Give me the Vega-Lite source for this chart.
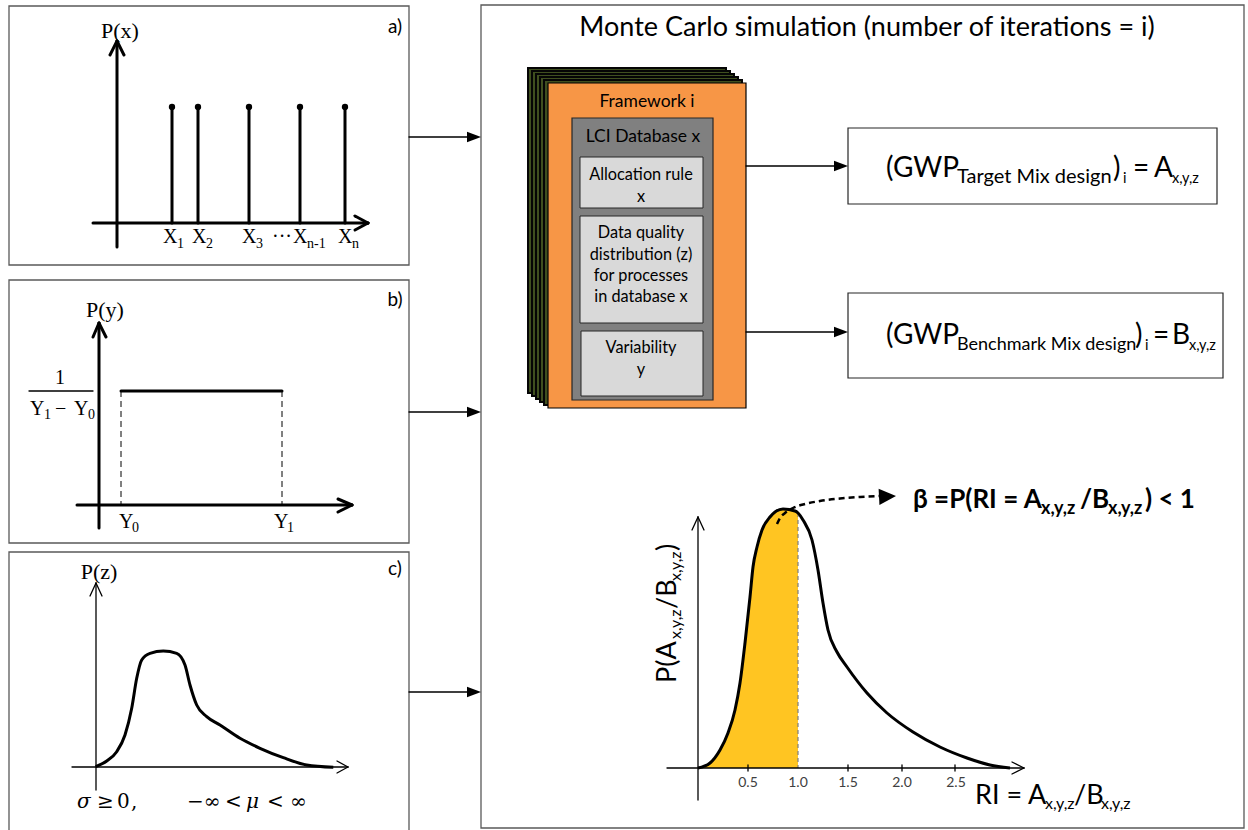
{
  "$schema": "https://vega.github.io/schema/vega-lite/v6.json",
  "width": 1248,
  "height": 830,
  "padding": 0,
  "autosize": "none",
  "background": "white",
  "config": {"view": {"stroke": null}},
  "datasets": {
    "frames": [
      {"x": 9, "x2": 409, "y": 6, "y2": 265},
      {"x": 9, "x2": 409, "y": 280, "y2": 543},
      {"x": 9, "x2": 409, "y": 552, "y2": 840},
      {"x": 481, "x2": 1244, "y": 5, "y2": 828}
    ],
    "stack": [
      {"x": 528, "x2": 726, "y": 68, "y2": 393},
      {"x": 532, "x2": 730, "y": 71, "y2": 396},
      {"x": 536, "x2": 734, "y": 74, "y2": 399},
      {"x": 540, "x2": 738, "y": 77, "y2": 402},
      {"x": 544, "x2": 742, "y": 80, "y2": 405}
    ],
    "framework": [{"x": 548, "x2": 746, "y": 83, "y2": 408}],
    "lci": [{"x": 572, "x2": 713, "y": 118, "y2": 400}],
    "inner": [
      {"x": 580, "x2": 703, "y": 157, "y2": 208},
      {"x": 580, "x2": 703, "y": 216, "y2": 323},
      {"x": 581, "x2": 703, "y": 331, "y2": 396}
    ],
    "results": [
      {"x": 848, "x2": 1217, "y": 128, "y2": 204},
      {"x": 848, "x2": 1223, "y": 293, "y2": 378}
    ],
    "thick": [
      {"x": 117, "y": 247, "x2": 117, "y2": 41},
      {"x": 110, "y": 55, "x2": 117, "y2": 41},
      {"x": 117, "y": 41, "x2": 124, "y2": 55},
      {"x": 93, "y": 223, "x2": 368, "y2": 223},
      {"x": 355, "y": 216, "x2": 368, "y2": 223},
      {"x": 368, "y": 223, "x2": 355, "y2": 230},
      {"x": 172, "y": 223, "x2": 172, "y2": 107},
      {"x": 198, "y": 223, "x2": 198, "y2": 107},
      {"x": 249, "y": 223, "x2": 249, "y2": 107},
      {"x": 300, "y": 223, "x2": 300, "y2": 107},
      {"x": 345, "y": 223, "x2": 345, "y2": 107},
      {"x": 99, "y": 528, "x2": 99, "y2": 323},
      {"x": 93, "y": 337, "x2": 99, "y2": 323},
      {"x": 99, "y": 323, "x2": 106, "y2": 337},
      {"x": 77, "y": 505, "x2": 352, "y2": 505},
      {"x": 338, "y": 499, "x2": 352, "y2": 505},
      {"x": 352, "y": 505, "x2": 338, "y2": 512},
      {"x": 121, "y": 391, "x2": 282, "y2": 391}
    ],
    "thin": [
      {"x": 96, "y": 790, "x2": 96, "y2": 583},
      {"x": 90, "y": 596, "x2": 96, "y2": 583},
      {"x": 96, "y": 583, "x2": 102, "y2": 596},
      {"x": 72, "y": 767, "x2": 348, "y2": 767},
      {"x": 337, "y": 761, "x2": 348, "y2": 767},
      {"x": 348, "y": 767, "x2": 337, "y2": 773},
      {"x": 698, "y": 800, "x2": 698, "y2": 517},
      {"x": 692, "y": 530, "x2": 698, "y2": 517},
      {"x": 698, "y": 517, "x2": 704, "y2": 530},
      {"x": 667, "y": 768, "x2": 1024, "y2": 768},
      {"x": 1012, "y": 762, "x2": 1024, "y2": 768},
      {"x": 1024, "y": 768, "x2": 1012, "y2": 774},
      {"x": 748, "y": 765, "x2": 748, "y2": 771},
      {"x": 848, "y": 765, "x2": 848, "y2": 771},
      {"x": 902, "y": 765, "x2": 902, "y2": 771},
      {"x": 955, "y": 765, "x2": 955, "y2": 771},
      {"x": 409, "y": 137, "x2": 470, "y2": 137},
      {"x": 409, "y": 412, "x2": 470, "y2": 412},
      {"x": 409, "y": 692, "x2": 470, "y2": 692},
      {"x": 746, "y": 166, "x2": 836, "y2": 166},
      {"x": 746, "y": 332, "x2": 836, "y2": 332},
      {"x": 29, "y": 391, "x2": 93, "y2": 391}
    ],
    "dashedB": [
      {"x": 121, "y": 391, "x2": 121, "y2": 505},
      {"x": 282, "y": 391, "x2": 282, "y2": 505}
    ],
    "dashedRI": [{"x": 798, "y": 513, "x2": 798, "y2": 768}],
    "zcurve": [
      {"x": 95.7, "y": 766.7}, {"x": 106.7, "y": 761}, {"x": 116.7, "y": 751.7},
      {"x": 125, "y": 735}, {"x": 131.7, "y": 708.3}, {"x": 136.7, "y": 678.3},
      {"x": 141.7, "y": 660}, {"x": 150, "y": 653.3}, {"x": 163.3, "y": 651},
      {"x": 176.7, "y": 653.3}, {"x": 185, "y": 665}, {"x": 190, "y": 685},
      {"x": 196.7, "y": 705}, {"x": 206.7, "y": 716.7}, {"x": 220, "y": 725},
      {"x": 240, "y": 738.3}, {"x": 260, "y": 748.3}, {"x": 283.3, "y": 757.7},
      {"x": 306.7, "y": 765}, {"x": 333.3, "y": 767.3}
    ],
    "ricurve": [
      {"x": 698, "y": 768}, {"x": 710, "y": 763}, {"x": 720, "y": 750},
      {"x": 728, "y": 733}, {"x": 735, "y": 710}, {"x": 740, "y": 683},
      {"x": 745, "y": 643}, {"x": 750, "y": 597}, {"x": 753, "y": 567},
      {"x": 757, "y": 547}, {"x": 762, "y": 530}, {"x": 770, "y": 517},
      {"x": 783, "y": 509}, {"x": 795, "y": 511}, {"x": 798, "y": 513},
      {"x": 803, "y": 520}, {"x": 812, "y": 540}, {"x": 818, "y": 570},
      {"x": 823, "y": 603}, {"x": 828, "y": 630}, {"x": 837, "y": 652},
      {"x": 847, "y": 667}, {"x": 867, "y": 693}, {"x": 887, "y": 713},
      {"x": 913, "y": 732}, {"x": 940, "y": 747}, {"x": 967, "y": 758},
      {"x": 990, "y": 765}, {"x": 1010, "y": 768}
    ],
    "beta": [
      {"x": 777, "y": 524}, {"x": 780, "y": 518}, {"x": 785, "y": 513},
      {"x": 793, "y": 508}, {"x": 805, "y": 504}, {"x": 820, "y": 501},
      {"x": 840, "y": 498.5}, {"x": 860, "y": 497}, {"x": 880, "y": 496}
    ],
    "heads": [
      {"x": 481, "y": 137}, {"x": 481, "y": 412}, {"x": 481, "y": 692},
      {"x": 848, "y": 166}, {"x": 848, "y": 332}
    ],
    "betahead": [{"x": 896, "y": 496}],
    "dots": [
      {"x": 172, "y": 107}, {"x": 198, "y": 107}, {"x": 249, "y": 107},
      {"x": 300, "y": 107}, {"x": 345, "y": 107}
    ],
    "serifBig": [
      {"x": 120, "y": 31, "t": "P(x)"},
      {"x": 105, "y": 310, "t": "P(y)"},
      {"x": 99, "y": 572, "t": "P(z)"}
    ],
    "serifMain": [
      {"x": 163, "y": 243, "t": "X"}, {"x": 192, "y": 243, "t": "X"},
      {"x": 242, "y": 243, "t": "X"}, {"x": 272, "y": 243, "t": "···"},
      {"x": 293, "y": 243, "t": "X"}, {"x": 338, "y": 243, "t": "X"},
      {"x": 119, "y": 528, "t": "Y"}, {"x": 274, "y": 528, "t": "Y"},
      {"x": 55, "y": 384, "t": "1"},
      {"x": 30, "y": 415, "t": "Y"}, {"x": 55, "y": 415, "t": "−"},
      {"x": 74, "y": 415, "t": "Y"}
    ],
    "serifMath": [
      {"x": 97, "y": 808, "t": "≥"}, {"x": 117, "y": 808, "t": "0"},
      {"x": 131, "y": 808, "t": ","},
      {"x": 187, "y": 808, "t": "−∞"}, {"x": 225, "y": 808, "t": "<"},
      {"x": 267, "y": 808, "t": "<"}, {"x": 290, "y": 808, "t": "∞"}
    ],
    "serifItal": [
      {"x": 77, "y": 808, "t": "σ"}, {"x": 246, "y": 808, "t": "μ"}
    ],
    "serifSub": [
      {"x": 177, "y": 248, "t": "1"}, {"x": 206, "y": 248, "t": "2"},
      {"x": 256, "y": 248, "t": "3"}, {"x": 307, "y": 248, "t": "n-1"},
      {"x": 352, "y": 248, "t": "n"},
      {"x": 132, "y": 532, "t": "0"}, {"x": 287, "y": 532, "t": "1"},
      {"x": 44, "y": 419, "t": "1"}, {"x": 88, "y": 419, "t": "0"}
    ],
    "panelTags": [
      {"x": 395, "y": 27, "t": "a)"},
      {"x": 395, "y": 300, "t": "b)"},
      {"x": 395, "y": 569, "t": "c)"}
    ],
    "title": [{"x": 867, "y": 28, "t": "Monte Carlo simulation (number of iterations = i)"}],
    "fwText": [
      {"x": 647, "y": 102, "t": "Framework i"},
      {"x": 643, "y": 137, "t": "LCI Database x"}
    ],
    "boxText": [
      {"x": 641, "y": 175, "t": "Allocation rule"},
      {"x": 641, "y": 197, "t": "x"},
      {"x": 641, "y": 233, "t": "Data quality"},
      {"x": 641, "y": 255, "t": "distribution (z)"},
      {"x": 641, "y": 276, "t": "for processes"},
      {"x": 641, "y": 297, "t": "in database x"},
      {"x": 641, "y": 348, "t": "Variability"},
      {"x": 641, "y": 370, "t": "y"}
    ],
    "bigMain": [
      {"x": 886, "y": 177, "t": "(GWP"}, {"x": 1113, "y": 177, "t": ")"},
      {"x": 1133, "y": 177, "t": "="}, {"x": 1154, "y": 177, "t": "A"},
      {"x": 886, "y": 344, "t": "(GWP"}, {"x": 1135, "y": 344, "t": ")"},
      {"x": 1153, "y": 344, "t": "="}, {"x": 1172, "y": 344, "t": "B"}
    ],
    "boxSubT": [
      {"x": 957, "y": 183, "t": "Target Mix design"}
    ],
    "boxSubB": [
      {"x": 957, "y": 350, "t": "Benchmark Mix design"}
    ],
    "boxSubSmall": [
      {"x": 1123, "y": 183, "t": "i"},
      {"x": 1172, "y": 183, "t": "x,y,z"},
      {"x": 1145, "y": 350, "t": "i"},
      {"x": 1189, "y": 350, "t": "x,y,z"}
    ],
    "riMain": [
      {"x": 975, "y": 804, "t": "RI = A"}, {"x": 1074, "y": 804, "t": "/B"}
    ],
    "riSub": [
      {"x": 1045, "y": 809, "t": "x,y,z"},
      {"x": 1101, "y": 809, "t": "x,y,z"}
    ],
    "boldMain": [
      {"x": 913, "y": 508, "t": "β =P(RI = A"},
      {"x": 1080, "y": 508, "t": "/B"},
      {"x": 1145, "y": 508, "t": ") < 1"}
    ],
    "boldSub": [
      {"x": 1041, "y": 514, "t": "x,y,z"},
      {"x": 1108, "y": 514, "t": "x,y,z"}
    ],
    "rotMain": [
      {"x": 676, "y": 683, "t": "P(A"},
      {"x": 676, "y": 609, "t": "/B"},
      {"x": 676, "y": 551, "t": ")"}
    ],
    "rotSub": [
      {"x": 681, "y": 639, "t": "x,y,z"},
      {"x": 681, "y": 581, "t": "x,y,z"}
    ],
    "ticks": [
      {"x": 748, "y": 783, "t": "0.5"}, {"x": 798, "y": 783, "t": "1.0"},
      {"x": 848, "y": 783, "t": "1.5"}, {"x": 902, "y": 783, "t": "2.0"},
      {"x": 956, "y": 783, "t": "2.5"}
    ]
  },
  "encoding": {
    "x": {"field": "x", "type": "quantitative", "scale": {"domain": [0, 1248], "nice": false, "zero": false}, "axis": null},
    "y": {"field": "y", "type": "quantitative", "scale": {"domain": [0, 830], "nice": false, "zero": false, "reverse": true}, "axis": null}
  },
  "layer": [
    {"data": {"name": "frames"}, "mark": {"type": "rect", "fill": "white", "fillOpacity": 0, "stroke": "#595959", "strokeWidth": 1.3},
     "encoding": {"x2": {"field": "x2"}, "y2": {"field": "y2"}}},
    {"data": {"name": "stack"}, "mark": {"type": "rect", "fill": "#3F4F1F", "stroke": "#050505", "strokeWidth": 2},
     "encoding": {"x2": {"field": "x2"}, "y2": {"field": "y2"}}},
    {"data": {"name": "framework"}, "mark": {"type": "rect", "fill": "#F79646", "stroke": "#000000", "strokeWidth": 1.2},
     "encoding": {"x2": {"field": "x2"}, "y2": {"field": "y2"}}},
    {"data": {"name": "lci"}, "mark": {"type": "rect", "fill": "#808080", "stroke": "#262626", "strokeWidth": 1.2},
     "encoding": {"x2": {"field": "x2"}, "y2": {"field": "y2"}}},
    {"data": {"name": "inner"}, "mark": {"type": "rect", "fill": "#D9D9D9", "stroke": "#262626", "strokeWidth": 1},
     "encoding": {"x2": {"field": "x2"}, "y2": {"field": "y2"}}},
    {"data": {"name": "results"}, "mark": {"type": "rect", "fill": "white", "stroke": "#262626", "strokeWidth": 1.2},
     "encoding": {"x2": {"field": "x2"}, "y2": {"field": "y2"}}},
    {"data": {"name": "ricurve"}, "transform": [{"filter": "datum.x <= 798"}],
     "mark": {"type": "area", "color": "#FFC522", "interpolate": "monotone", "orient": "vertical"},
     "encoding": {"y": {"field": "y", "type": "quantitative", "stack": null, "scale": {"domain": [0, 830], "nice": false, "zero": false, "reverse": true}, "axis": null},
                  "y2": {"datum": 768}}},
    {"data": {"name": "dashedRI"}, "mark": {"type": "rule", "color": "#7F7F7F", "strokeWidth": 1.2, "strokeDash": [4, 3]},
     "encoding": {"x2": {"field": "x2"}, "y2": {"field": "y2"}}},
    {"data": {"name": "dashedB"}, "mark": {"type": "rule", "color": "#000000", "strokeWidth": 1, "strokeDash": [6, 4]},
     "encoding": {"x2": {"field": "x2"}, "y2": {"field": "y2"}}},
    {"data": {"name": "thin"}, "mark": {"type": "rule", "color": "#000000", "strokeWidth": 1.3, "strokeCap": "round"},
     "encoding": {"x2": {"field": "x2"}, "y2": {"field": "y2"}}},
    {"data": {"name": "thick"}, "mark": {"type": "rule", "color": "#000000", "strokeWidth": 3, "strokeCap": "round"},
     "encoding": {"x2": {"field": "x2"}, "y2": {"field": "y2"}}},
    {"data": {"name": "zcurve"}, "mark": {"type": "line", "color": "#000000", "strokeWidth": 3, "interpolate": "monotone"}, "encoding": {}},
    {"data": {"name": "ricurve"}, "mark": {"type": "line", "color": "#000000", "strokeWidth": 3, "interpolate": "monotone"}, "encoding": {}},
    {"data": {"name": "beta"}, "mark": {"type": "line", "color": "#000000", "strokeWidth": 2.5, "strokeDash": [6, 4], "interpolate": "monotone"}, "encoding": {}},
    {"data": {"name": "heads"}, "mark": {"type": "point", "shape": "M0,0L-2,-0.75L-2,0.75Z", "size": 196, "filled": true, "color": "#000000", "opacity": 1}},
    {"data": {"name": "betahead"}, "mark": {"type": "point", "shape": "M0,0L-2,-0.95L-2,0.95Z", "size": 289, "filled": true, "color": "#000000", "opacity": 1, "angle": -3}},
    {"data": {"name": "dots"}, "mark": {"type": "circle", "size": 40, "color": "#000000", "opacity": 1}},
    {"data": {"name": "serifBig"}, "mark": {"type": "text", "font": "Liberation Serif", "fontSize": 22, "align": "center", "baseline": "middle", "color": "#000000"},
     "encoding": {"text": {"field": "t"}}},
    {"data": {"name": "serifMain"}, "mark": {"type": "text", "font": "Liberation Serif", "fontSize": 20, "align": "left", "baseline": "alphabetic", "color": "#000000"},
     "encoding": {"text": {"field": "t"}}},
    {"data": {"name": "serifMath"}, "mark": {"type": "text", "font": "DejaVu Serif", "fontSize": 20, "align": "left", "baseline": "alphabetic", "color": "#000000"},
     "encoding": {"text": {"field": "t"}}},
    {"data": {"name": "serifItal"}, "mark": {"type": "text", "font": "DejaVu Serif", "fontStyle": "italic", "fontSize": 20, "align": "left", "baseline": "alphabetic", "color": "#000000"},
     "encoding": {"text": {"field": "t"}}},
    {"data": {"name": "serifSub"}, "mark": {"type": "text", "font": "Liberation Serif", "fontSize": 14, "align": "left", "baseline": "alphabetic", "color": "#000000"},
     "encoding": {"text": {"field": "t"}}},
    {"data": {"name": "panelTags"}, "mark": {"type": "text", "font": "Lato", "fontSize": 19, "align": "center", "baseline": "middle", "color": "#000000"},
     "encoding": {"text": {"field": "t"}}},
    {"data": {"name": "title"}, "mark": {"type": "text", "font": "Lato", "fontSize": 27, "align": "center", "baseline": "middle", "color": "#000000"},
     "encoding": {"text": {"field": "t"}}},
    {"data": {"name": "fwText"}, "mark": {"type": "text", "font": "Lato", "fontSize": 17.5, "align": "center", "baseline": "middle", "color": "#000000"},
     "encoding": {"text": {"field": "t"}}},
    {"data": {"name": "boxText"}, "mark": {"type": "text", "font": "Lato", "fontSize": 16.3, "align": "center", "baseline": "middle", "color": "#000000"},
     "encoding": {"text": {"field": "t"}}},
    {"data": {"name": "bigMain"}, "mark": {"type": "text", "font": "Lato", "fontSize": 28, "align": "left", "baseline": "alphabetic", "color": "#000000"},
     "encoding": {"text": {"field": "t"}}},
    {"data": {"name": "boxSubT"}, "mark": {"type": "text", "font": "Lato", "fontSize": 20, "align": "left", "baseline": "alphabetic", "color": "#000000"},
     "encoding": {"text": {"field": "t"}}},
    {"data": {"name": "boxSubB"}, "mark": {"type": "text", "font": "Lato", "fontSize": 18, "align": "left", "baseline": "alphabetic", "color": "#000000"},
     "encoding": {"text": {"field": "t"}}},
    {"data": {"name": "boxSubSmall"}, "mark": {"type": "text", "font": "Lato", "fontSize": 14.5, "align": "left", "baseline": "alphabetic", "color": "#000000"},
     "encoding": {"text": {"field": "t"}}},
    {"data": {"name": "riMain"}, "mark": {"type": "text", "font": "Lato", "fontSize": 27, "align": "left", "baseline": "alphabetic", "color": "#000000"},
     "encoding": {"text": {"field": "t"}}},
    {"data": {"name": "riSub"}, "mark": {"type": "text", "font": "Lato", "fontSize": 16, "align": "left", "baseline": "alphabetic", "color": "#000000"},
     "encoding": {"text": {"field": "t"}}},
    {"data": {"name": "boldMain"}, "mark": {"type": "text", "font": "Lato", "fontWeight": "bold", "fontSize": 26, "align": "left", "baseline": "alphabetic", "color": "#000000"},
     "encoding": {"text": {"field": "t"}}},
    {"data": {"name": "boldSub"}, "mark": {"type": "text", "font": "Lato", "fontWeight": "bold", "fontSize": 18, "align": "left", "baseline": "alphabetic", "color": "#000000"},
     "encoding": {"text": {"field": "t"}}},
    {"data": {"name": "rotMain"}, "mark": {"type": "text", "font": "Lato", "fontSize": 27, "angle": 270, "align": "left", "baseline": "alphabetic", "color": "#000000"},
     "encoding": {"text": {"field": "t"}}},
    {"data": {"name": "rotSub"}, "mark": {"type": "text", "font": "Lato", "fontSize": 16, "angle": 270, "align": "left", "baseline": "alphabetic", "color": "#000000"},
     "encoding": {"text": {"field": "t"}}},
    {"data": {"name": "ticks"}, "mark": {"type": "text", "font": "Lato", "fontSize": 14, "align": "center", "baseline": "middle", "color": "#404040"},
     "encoding": {"text": {"field": "t"}}}
  ]
}
